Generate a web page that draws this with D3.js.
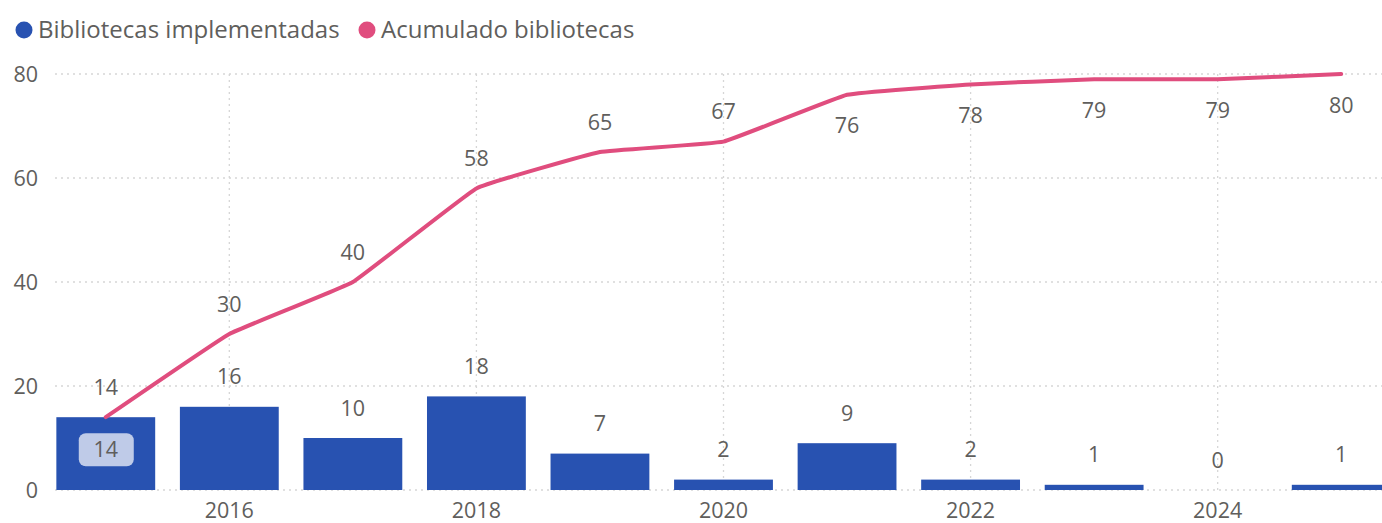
<!DOCTYPE html>
<html>
<head>
<meta charset="utf-8">
<script src="https://cdn.jsdelivr.net/npm/d3@7"></script>
<style>
  body { margin: 0; background: #fff; }
  svg { display: block; font-family: "Open Sans", "Noto Sans", sans-serif; }
</style>
</head>
<body>
<svg id="chart" width="1382" height="523"></svg>
<script>
// data
var years = [2015, 2016, 2017, 2018, 2019, 2020, 2021, 2022, 2023, 2024, 2025];
var implementadas = [14, 16, 10, 18, 7, 2, 9, 2, 1, 0, 1];
var acumulado = [14, 30, 40, 58, 65, 67, 76, 78, 79, 79, 80];
var yTicks = [0, 20, 40, 60, 80];
var xTickYears = [2016, 2018, 2020, 2022, 2024];
// where the line label goes: above, below, or boxed inside the bar
var lineLabelPos = ["box", "up", "up", "up", "up", "up", "down", "down", "down", "down", "down"];

var barColor = "#2852B1", lineColor = "#E04D7E", textColor = "#605E5C";

var svg = d3.select("#chart");
var plotTop = 74, plotBottom = 490, plotLeft = 55;
var fontSize = "21.5px";

var x = d3.scaleBand()
    .domain(years)
    .range([44, 1403])
    .paddingInner(0.2)
    .paddingOuter(0.1);

var y = d3.scaleLinear()
    .domain([0, 80])
    .range([plotBottom, plotTop]);

// gridlines
var grid = svg.append("g").attr("stroke", "#d6d6d6").attr("stroke-width", 1.3).attr("stroke-dasharray", "2,4");
grid.selectAll(".h").data(yTicks).enter().append("line")
    .attr("x1", plotLeft).attr("x2", 1382)
    .attr("y1", function (d) { return y(d); })
    .attr("y2", function (d) { return y(d); });
grid.selectAll(".v").data(xTickYears).enter().append("line")
    .attr("x1", function (d) { return x(d) + x.bandwidth() / 2; })
    .attr("x2", function (d) { return x(d) + x.bandwidth() / 2; })
    .attr("y1", plotTop).attr("y2", plotBottom);

// y axis labels
svg.append("g").selectAll("text").data(yTicks).enter().append("text")
    .attr("x", 38).attr("y", function (d) { return y(d); })
    .attr("dy", "0.35em").attr("text-anchor", "end")
    .attr("fill", textColor).style("font-size", fontSize)
    .text(function (d) { return d; });

// x axis labels
svg.append("g").selectAll("text").data(xTickYears).enter().append("text")
    .attr("x", function (d) { return x(d) + x.bandwidth() / 2; })
    .attr("y", 510).attr("dy", "0.35em").attr("text-anchor", "middle")
    .attr("fill", textColor).style("font-size", fontSize)
    .text(function (d) { return d; });

// bars
svg.append("g").selectAll("rect").data(implementadas).enter().append("rect")
    .attr("x", function (d, i) { return x(years[i]); })
    .attr("width", x.bandwidth())
    .attr("y", function (d) { return y(d); })
    .attr("height", function (d) { return plotBottom - y(d); })
    .attr("fill", barColor);

// bar labels
svg.append("g").selectAll("text").data(implementadas).enter().append("text")
    .attr("x", function (d, i) { return x(years[i]) + x.bandwidth() / 2; })
    .attr("y", function (d) { return y(d) - 30; })
    .attr("dy", "0.35em").attr("text-anchor", "middle")
    .attr("fill", textColor).style("font-size", fontSize)
    .text(function (d) { return d; });

// cumulative line, only lightly smoothed
var line = d3.line()
    .x(function (d, i) { return x(years[i]) + x.bandwidth() / 2; })
    .y(function (d) { return y(d); })
    .curve(d3.curveCardinal.tension(0.75));

svg.append("path")
    .datum(acumulado)
    .attr("d", line)
    .attr("fill", "none")
    .attr("stroke", lineColor)
    .attr("stroke-width", 4)
    .attr("stroke-linecap", "round");

// line labels
var ll = svg.append("g");
acumulado.forEach(function (d, i) {
    var cx = x(years[i]) + x.bandwidth() / 2;
    var pos = lineLabelPos[i];
    var cy = pos == "up" ? y(d) - 30 : y(d) + 31;
    if (pos == "box") {
        cy = y(d) + 32;
        ll.append("rect")
            .attr("x", cx - 27).attr("y", cy - 16)
            .attr("width", 55).attr("height", 33)
            .attr("rx", 7)
            .attr("fill", "#fff").attr("fill-opacity", 0.7);
    }
    ll.append("text")
        .attr("x", cx).attr("y", cy)
        .attr("dy", "0.35em").attr("text-anchor", "middle")
        .attr("fill", textColor).style("font-size", fontSize)
        .text(d);
});

// legend
var legend = [
    { name: "Bibliotecas implementadas", color: barColor, x: 24 },
    { name: "Acumulado bibliotecas", color: lineColor, x: 367 }
];
var lg = svg.append("g").selectAll("g").data(legend).enter().append("g")
    .attr("transform", function (d) { return "translate(" + d.x + ",30)"; });
lg.append("circle").attr("r", 8.5).attr("fill", function (d) { return d.color; });
lg.append("text").attr("x", 14).attr("dy", "0.35em")
    .attr("fill", textColor).style("font-size", "24px")
    .text(function (d) { return d.name; });
</script>
</body>
</html>
